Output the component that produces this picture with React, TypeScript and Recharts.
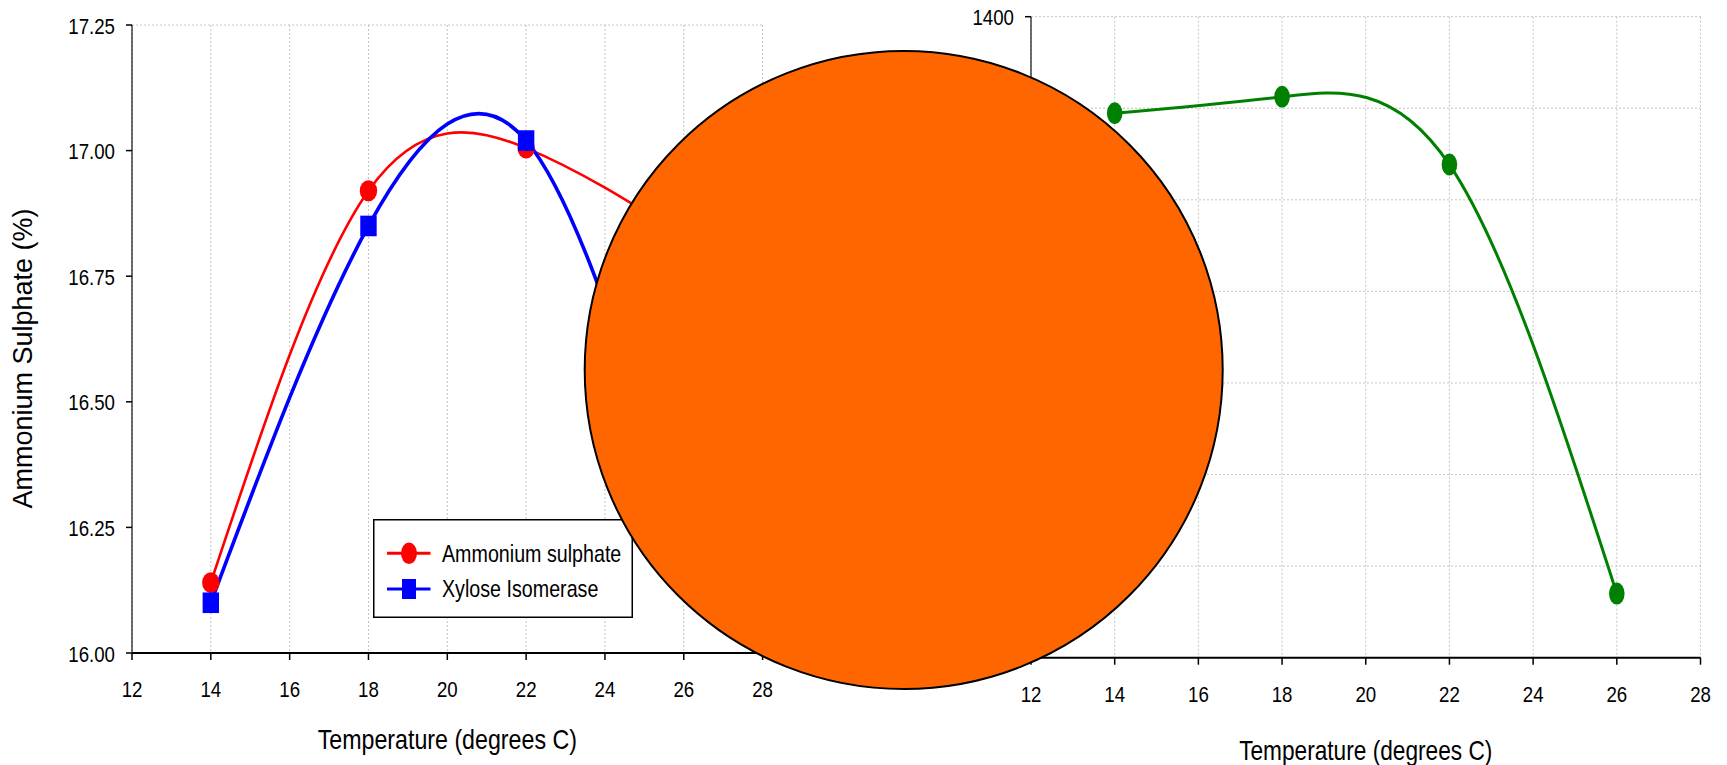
import React from 'react';
import { LineChart, Line, XAxis, YAxis, CartesianGrid, Legend, Label } from 'recharts';

const FONT = '"Liberation Sans", Arial, Helvetica, sans-serif';

// ---- data ----
const temperatures = [14, 18, 22, 26];
const ammoniumSulphate = [16.14, 16.92, 17.005, 16.83];
const xyloseIsomerase = [16.1, 16.85, 17.02, 16.2];
const enzymeActivity = [1189, 1225, 1077, 140];

const seriesNames = ['Ammonium sulphate', 'Xylose Isomerase'];
const seriesColors = ['#FF0000', '#0000FF'];
const activityColor = '#008000';

const xTicks = [12, 14, 16, 18, 20, 22, 24, 26, 28];
const leftYTicks = [16.0, 16.25, 16.5, 16.75, 17.0, 17.25];
const rightYTicks = [0, 200, 400, 600, 800, 1000, 1200, 1400];
const leftGridDomain = [0, 3.5];
const leftGridTicks = [1, 2, 3];

const xTitle = 'Temperature (degrees C)';
const leftYTitle = 'Ammonium Sulphate (%)';

const leftData = temperatures.map((t, i) => ({ t, as: ammoniumSulphate[i], xi: xyloseIsomerase[i] }));
const rightData = temperatures.map((t, i) => ({ t, act: enzymeActivity[i] }));

// ---- helpers ----
const SQ = 0.83;

const XTick = (props: any) => {
  const { x, y, payload } = props;
  return (
    <g transform={`translate(${x},${y})`}>
      <text x={0} y={0} dy={37} textAnchor="middle" transform={`scale(${SQ},1)`} fontSize={22.5} fill="#000" fontFamily={FONT}>
        {payload.value}
      </text>
    </g>
  );
};

const makeYTick = (fmt: (v: number) => string) => (props: any) => {
  const { x, y, payload } = props;
  return (
    <g transform={`translate(${x - 11},${y})`}>
      <text x={0} y={0} dy={8.5} textAnchor="end" transform={`scale(${SQ},1)`} fontSize={22.5} fill="#000" fontFamily={FONT}>
        {fmt(payload.value)}
      </text>
    </g>
  );
};

const makeXTitle = (dy: number, sx: number) => (props: any) => {
  const vb = props.viewBox || { x: 0, y: 0, width: 0, height: 0 };
  const cx = vb.x + vb.width / 2;
  return (
    <g transform={`translate(${cx},${vb.y + dy})`}>
      <text x={0} y={0} textAnchor="middle" transform={`scale(${sx},1)`} fontSize={27} fill="#000" fontFamily={FONT}>
        {xTitle}
      </text>
    </g>
  );
};

const LeftYTitle = (props: any) => {
  const vb = props.viewBox || { x: 0, y: 0, width: 0, height: 0 };
  const bx = vb.x + 32;
  const cy = vb.y + vb.height / 2 + 19.5;
  return (
    <text x={bx} y={cy} textAnchor="middle" transform={`rotate(-90, ${bx}, ${cy})`} fontSize={27} fill="#000" fontFamily={FONT}>
      {leftYTitle}
    </text>
  );
};

const RedDot = (props: any) => {
  const { cx, cy, index } = props;
  if (cx == null || cy == null) return <g key={`r-${index}`} />;
  return <ellipse key={`r-${index}`} cx={cx} cy={cy} rx={8.7} ry={10.5} fill={seriesColors[0]} />;
};
const BlueDot = (props: any) => {
  const { cx, cy, index } = props;
  if (cx == null || cy == null) return <g key={`b-${index}`} />;
  return <rect key={`b-${index}`} x={cx - 8.2} y={cy - 10.3} width={16.4} height={20.6} fill={seriesColors[1]} />;
};
const GreenDot = (props: any) => {
  const { cx, cy, index } = props;
  if (cx == null || cy == null) return <g key={`g-${index}`} />;
  return <ellipse key={`g-${index}`} cx={cx} cy={cy} rx={7.8} ry={11} fill={activityColor} />;
};

const LegendBox = () => (
  <svg width={260} height={99} style={{ display: 'block' }}>
    <rect x={0.75} y={0.75} width={258.5} height={97.5} fill="#fff" stroke="#000" strokeWidth={1.5} />
    {seriesNames.map((name, i) => {
      const cy = 34.3 + i * 35.7;
      return (
        <g key={name}>
          <line x1={14} x2={57.5} y1={cy} y2={cy} stroke={seriesColors[i]} strokeWidth={3} />
          {i === 0 ? (
            <ellipse cx={36} cy={cy} rx={8} ry={10.8} fill={seriesColors[i]} />
          ) : (
            <rect x={29} y={cy - 10} width={14} height={20} fill={seriesColors[i]} />
          )}
          <g transform={`translate(69,${cy + 8.4})`}>
            <text x={0} y={0} transform="scale(0.82,1)" fontSize={24} fill="#000" fontFamily={FONT}>
              {name}
            </text>
          </g>
        </g>
      );
    })}
  </svg>
);

const axisStroke = { stroke: '#000', strokeWidth: 1.5 };

export default function App() {
  return (
    <div style={{ position: 'absolute', left: 0, top: 0, width: 1727, height: 765, background: '#fff', overflow: 'hidden', fontFamily: FONT }}>
      {/* Left panel */}
      <div style={{ position: 'absolute', left: 0, top: 0 }}>
        <LineChart width={800} height={765} data={leftData} margin={{ top: 25, right: 37.4, left: 0, bottom: 0 }}>
          <CartesianGrid yAxisId="grid" stroke="#c4c4c4" strokeDasharray="2 2" />
          <XAxis
            dataKey="t"
            type="number"
            domain={[12, 28]}
            ticks={xTicks}
            interval={0}
            height={112}
            tickSize={7}
            tickMargin={0}
            axisLine={{ stroke: '#000', strokeWidth: 2 }}
            tickLine={axisStroke}
            tick={(p: any) => <XTick {...p} />}
          >
            <Label content={makeXTitle(96.3, 0.86)} />
          </XAxis>
          <XAxis xAxisId="top" orientation="top" dataKey="t" type="number" domain={[12, 28]} height={0} tick={false} tickLine={false} axisLine={axisStroke} />
          <YAxis
            type="number"
            domain={[16, 17.25]}
            ticks={leftYTicks}
            interval={0}
            width={132}
            tickSize={6}
            tickMargin={0}
            axisLine={{ stroke: '#222', strokeWidth: 1.3 }}
            tickLine={axisStroke}
            tick={makeYTick((v) => v.toFixed(2))}
          >
            <Label content={LeftYTitle} />
          </YAxis>
          <YAxis yAxisId="right" orientation="right" width={0} domain={[0, 1]} tick={false} tickLine={false} axisLine={axisStroke} />
          <YAxis yAxisId="grid" hide domain={leftGridDomain} ticks={leftGridTicks} type="number" />
          <Legend
            layout="vertical"
            align="center"
            verticalAlign="middle"
            content={() => <LegendBox />}
            wrapperStyle={{ position: 'absolute', left: 373, top: 519, width: 260, height: 99 }}
          />
          <Line
            type="natural"
            dataKey="as"
            name={seriesNames[0]}
            stroke={seriesColors[0]}
            strokeWidth={2.6}
            dot={RedDot}
            activeDot={false}
            isAnimationActive={false}
          />
          <Line
            type="natural"
            dataKey="xi"
            name={seriesNames[1]}
            stroke={seriesColors[1]}
            strokeWidth={3.6}
            dot={BlueDot}
            activeDot={false}
            isAnimationActive={false}
          />
        </LineChart>
      </div>

      {/* Right panel */}
      <div style={{ position: 'absolute', left: 900, top: 0 }}>
        <LineChart width={827} height={765} data={rightData} margin={{ top: 16.7, right: 26.5, left: 0, bottom: 0 }}>
          <CartesianGrid stroke="#c4c4c4" strokeDasharray="2 2" />
          <XAxis
            dataKey="t"
            type="number"
            domain={[12, 28]}
            ticks={xTicks}
            interval={0}
            height={107.3}
            tickSize={7}
            tickMargin={0}
            axisLine={{ stroke: '#000', strokeWidth: 2 }}
            tickLine={axisStroke}
            tick={(p: any) => <XTick {...p} />}
          >
            <Label content={makeXTitle(102, 0.84)} />
          </XAxis>
          <XAxis xAxisId="top" orientation="top" dataKey="t" type="number" domain={[12, 28]} height={0} tick={false} tickLine={false} axisLine={axisStroke} />
          <YAxis
            type="number"
            domain={[0, 1400]}
            ticks={rightYTicks}
            interval={0}
            width={131}
            tickSize={6}
            tickMargin={0}
            axisLine={{ stroke: '#222', strokeWidth: 1.3 }}
            tickLine={axisStroke}
            tick={makeYTick((v) => String(v))}
          />
          <YAxis yAxisId="right" orientation="right" width={0} domain={[0, 1]} tick={false} tickLine={false} axisLine={axisStroke} />
          <Line
            type="natural"
            dataKey="act"
            name="Activity"
            stroke={activityColor}
            strokeWidth={3}
            dot={GreenDot}
            activeDot={false}
            isAnimationActive={false}
          />
        </LineChart>
      </div>

      {/* Orange disc overlay */}
      <svg width={1727} height={765} style={{ position: 'absolute', left: 0, top: 0, pointerEvents: 'none' }}>
        <circle cx={903.7} cy={370} r={319} fill="#FF6600" stroke="#000" strokeWidth={2} />
      </svg>
    </div>
  );
}
